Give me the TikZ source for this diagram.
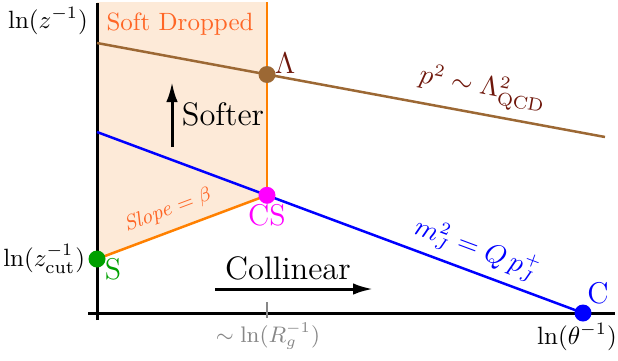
\documentclass[tikz,border=0pt,12pt]{standalone}
\usepackage{amsmath,amssymb}
\usetikzlibrary{arrows.meta, positioning}
\definecolor{softfill}{RGB}{253,234,216}
\definecolor{cutorange}{RGB}{255,128,0}
\definecolor{softtext}{RGB}{255,102,38}
\definecolor{lambrown}{RGB}{156,104,52}
\definecolor{qcdbrown}{RGB}{110,22,10}
\definecolor{sgreen}{RGB}{0,160,0}
\definecolor{csmag}{RGB}{255,0,255}
\definecolor{cblue}{RGB}{0,0,255}
\definecolor{rglabel}{RGB}{135,135,135}

\begin{document}
\begin{tikzpicture}[x=0.4pt, y=-0.4pt,
  dot/.style={circle, inner sep=0pt, minimum size=6.8pt},
  axisline/.style={line width=1.2pt},
  regline/.style={line width=1pt},
  axlabel/.style={font=\fontsize{10.3}{12}\selectfont},
  bigtext/.style={font=\fontsize{13}{15}\selectfont},
  linelabel/.style={sloped, above, inner sep=3pt, font=\fontsize{10.5}{12}\selectfont},
  arr/.style={-{Latex[length=8pt,width=4.6pt]}, line width=1.2pt}]
  \useasboundingbox (0,0) rectangle (618,360);
  % positions
  \coordinate (pS) at (97,259);
  \coordinate (pCS) at (267,195.3);
  \coordinate (pLam) at (267,74.5);
  \coordinate (pC) at (583,313);
  \coordinate (top0) at (97,2);
  \coordinate (top1) at (267,2);
  \coordinate (L0) at (97,43);
  \coordinate (L1) at (605,137);
  \coordinate (B0) at (97,132);
  % soft drop region
  \fill[softfill] (top0) -- (top1) -- (pCS) -- (pS) -- cycle;
  \node[text=softtext, font=\footnotesize] (sd) at (180,24) {Soft Dropped};
  % axes
  \coordinate (xa0) at (88,313);
  \coordinate (xa1) at (615,313);
  \coordinate (ya0) at (97,320);
  \coordinate (ya1) at (97,3);
  \draw[axisline] (xa0) -- (xa1);
  \draw[axisline] (ya0) -- (ya1);
  \coordinate (tk0) at (267,302);
  \coordinate (tk1) at (267,318);
  \draw[rglabel, line width=1pt] (tk0) -- (tk1);
  % lines
  \draw[regline, cutorange] (top1) -- (pCS);
  \draw[regline, cutorange] (pS) -- node[sloped, above, pos=0.46, font=\fontsize{8.5}{10}\selectfont, text=softtext] {\textit{Slope} $=\beta$} (pCS);
  \draw[regline, lambrown] (L0) -- node[linelabel, pos=0.75, text=qcdbrown] {$p^2\sim\Lambda_{\text{QCD}}^2$} (L1);
  \draw[regline, cblue] (B0) -- node[linelabel, pos=0.765, text=cblue] {$m_J^2=Q\,p_J^+$} (pC);
  % points
  \node[dot, fill=sgreen] (S) at (pS) {};
  \node[dot, fill=csmag] (CS) at (pCS) {};
  \node[dot, fill=lambrown] (Lam) at (pLam) {};
  \node[dot, fill=cblue] (C) at (pC) {};
  \node[text=sgreen, inner sep=0pt] (Slab) at (113,269) {S};
  \node[text=csmag, inner sep=0pt] (CSlab) at (267,215) {CS};
  \node[text=qcdbrown, inner sep=0pt] (Lamlab) at (285,63) {$\Lambda$};
  \node[text=cblue, inner sep=0pt] (Clab) at (598,293) {C};
  % axis labels
  \node[axlabel] (zlab) at (48,21) {$\ln(z^{-1})$};
  \node[axlabel, left=1pt of S, inner sep=0pt] (zcut) {$\ln(z_{\text{cut}}^{-1})$};
  \node[axlabel] (thlab) at (577,337) {$\ln(\theta^{-1})$};
  \node[text=rglabel, font=\fontsize{9}{11}\selectfont] (rglab) at (268,336) {$\sim\ln(R_g^{-1})$};
  % arrows
  \coordinate (sa0) at (172,147);
  \coordinate (sa1) at (172,82);
  \draw[arr] (sa0) -- (sa1);
  \node[bigtext] (softer) at (223,114) {Softer};
  \coordinate (ca0) at (215,289);
  \coordinate (ca1) at (373,289);
  \draw[arr] (ca0) -- (ca1);
  \node[bigtext] (coll) at (288,268) {Collinear};
\end{tikzpicture}
\end{document}
